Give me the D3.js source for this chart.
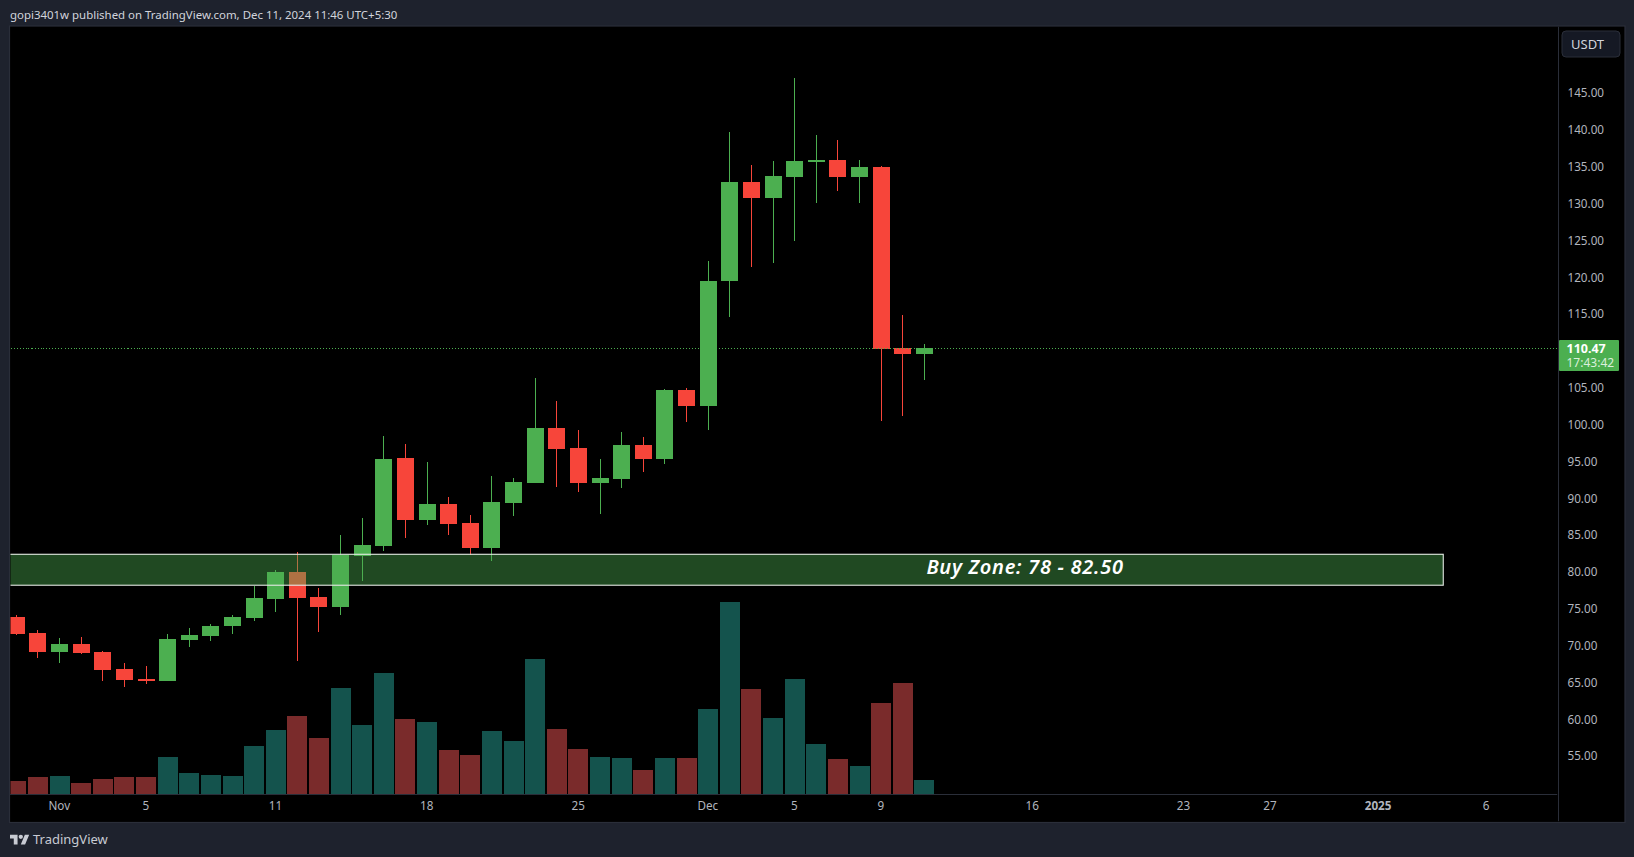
<!DOCTYPE html>
<html><head><meta charset="utf-8">
<script src="https://cdn.jsdelivr.net/npm/d3@7/dist/d3.min.js"></script>
<style>
html,body{margin:0;padding:0;background:#1E222D;overflow:hidden}
svg{display:block}
text{font-family:"Noto Sans",sans-serif}
</style></head><body>
<svg id="c" width="1634" height="857"></svg>
<script>
const dates=["2024-10-30","2024-10-31","2024-11-01","2024-11-02","2024-11-03","2024-11-04","2024-11-05","2024-11-06","2024-11-07","2024-11-08","2024-11-09","2024-11-10","2024-11-11","2024-11-12","2024-11-13","2024-11-14","2024-11-15","2024-11-16","2024-11-17","2024-11-18","2024-11-19","2024-11-20","2024-11-21","2024-11-22","2024-11-23","2024-11-24","2024-11-25","2024-11-26","2024-11-27","2024-11-28","2024-11-29","2024-11-30","2024-12-01","2024-12-02","2024-12-03","2024-12-04","2024-12-05","2024-12-06","2024-12-07","2024-12-08","2024-12-09","2024-12-10","2024-12-11"];
const open=[73.94,71.76,69.18,70.27,69.18,66.88,65.52,65.25,70.81,71.36,72.71,73.80,76.38,80.04,76.65,75.29,82.22,83.57,95.52,87.10,89.28,86.70,83.30,89.41,92.13,99.59,96.88,92.13,92.67,97.29,95.38,104.75,102.58,119.55,132.99,130.81,133.67,135.70,135.97,133.67,135.02,110.45,109.64];
const high=[74.21,72.17,71.08,71.22,69.32,67.69,67.28,71.63,72.44,72.99,74.21,78.15,80.32,82.76,77.87,85.07,87.38,98.51,97.42,94.98,90.23,87.78,93.08,92.81,106.38,103.26,99.32,95.38,99.05,98.37,104.89,105.02,122.26,139.77,135.29,135.84,147.10,139.37,138.69,135.97,135.16,114.93,111.00];
const low=[71.49,68.37,67.69,68.91,65.25,64.43,64.84,65.25,69.86,70.68,71.63,73.39,74.61,67.96,71.90,74.21,78.82,82.90,84.66,86.42,85.07,82.35,81.54,87.65,92.13,91.58,90.90,87.92,91.45,93.62,94.71,100.41,99.32,114.66,121.45,121.99,124.98,130.14,131.76,130.14,100.54,101.22,106.11];
const close=[71.63,69.18,70.27,69.05,66.74,65.38,65.25,70.95,71.49,72.71,73.94,76.52,80.04,76.52,75.29,82.35,83.71,95.38,87.10,89.28,86.56,83.30,89.55,92.26,99.59,96.74,92.13,92.81,97.29,95.38,104.75,102.58,119.55,132.99,130.81,133.80,135.84,135.97,133.67,135.02,110.32,109.64,110.47];
const volume=[13,17,18,11,15,17,17,37,21,19,18,48,64,78,56,106,69,121,75,72,44,39,63,53,135,65,45,37,36,24,36,36,85,192,105,76,115,50,35,28,91,111,14];
const priceTicks=[55,60,65,70,75,80,85,90,95,100,105,115,120,125,130,135,140,145];
const timeTickDates=["2024-11-01","2024-11-05","2024-11-11","2024-11-18","2024-11-25","2024-12-01","2024-12-05","2024-12-09","2024-12-16","2024-12-23","2024-12-27","2025-01-01","2025-01-06"];
const timeTickLabels=["Nov","5","11","18","25","Dec","5","9","16","23","27","2025","6"];
const lastPrice=110.47, countdown="17:43:42";
const zoneLow=78.25, zoneHigh=82.45, zoneEnd="2025-01-04";
const zoneLabel="Buy Zone: 78 - 82.50";
const header="gopi3401w published on TradingView.com, Dec 11, 2024 11:46 UTC+5:30";
const brand="TradingView", currency="USDT";

const GREEN="#4CAF50",RED="#F7453A",VG="#14534D",VR="#7A2B2B",BORDER="#2A2E39",AXT="#B2B5BE";
const L=10.5,R=1558,T=27,B=794,OUTR=1624,OUTB=821.5;
const svg=d3.select("#c");
const parse=s=>new Date(s+"T00:00:00Z");
const x=d3.scaleUtc().domain([parse("2024-10-30"),parse("2025-01-06")]).range([16.3,1486.5]);
const y=d3.scaleLinear().domain([145,55]).range([93.5,756.5]);
const yv=d3.scaleLinear().domain([0,192]).range([B,602]);

svg.append("rect").attr("width",1634).attr("height",857).attr("fill","#1E222D");
svg.append("rect").attr("x",L-1).attr("y",T-1).attr("width",OUTR-L+2).attr("height",OUTB-T+2).attr("fill","#000").attr("stroke",BORDER).attr("stroke-width",1.2);
const defs=svg.append("defs");
defs.append("clipPath").attr("id","plot").append("rect").attr("x",L).attr("y",T).attr("width",R-L).attr("height",B-T);

const rows=dates.map((d,i)=>({t:parse(d),o:open[i],h:high[i],l:low[i],c:close[i],v:volume[i]}));
const plot=svg.append("g").attr("clip-path","url(#plot)").attr("shape-rendering","crispEdges");

plot.selectAll(".vol").data(rows).join("rect").attr("class","vol")
 .attr("x",d=>Math.round(x(d.t)-10)).attr("width",20)
 .attr("y",d=>yv(d.v)).attr("height",d=>B-yv(d.v))
 .attr("fill",d=>d.c>=d.o?VG:VR);

const lineY=Math.ceil(y(lastPrice))+0.5;
svg.append("line").attr("x1",L).attr("x2",R).attr("y1",lineY).attr("y2",lineY)
 .attr("stroke",GREEN).attr("stroke-width",1).attr("stroke-dasharray","1 2").attr("shape-rendering","crispEdges");

const candle=plot.selectAll(".candle").data(rows).join("g").attr("class","candle");
const bx=d=>Math.round(x(d.t)-8.5);
candle.append("rect").attr("x",d=>bx(d)+8).attr("width",1)
 .attr("y",d=>Math.round(y(d.h))).attr("height",d=>Math.max(1,Math.round(y(d.l))-Math.round(y(d.h))))
 .attr("fill",d=>d.c>=d.o?GREEN:RED);
candle.append("rect").attr("x",bx).attr("width",17)
 .attr("y",d=>Math.round(y(Math.max(d.o,d.c))))
 .attr("height",d=>Math.max(2,Math.round(y(Math.min(d.o,d.c)))-Math.round(y(Math.max(d.o,d.c)))))
 .attr("fill",d=>d.c>=d.o?GREEN:RED);

const zx2=x(parse(zoneEnd));
plot.append("rect").attr("x",L-2).attr("y",y(zoneHigh)).attr("width",zx2-L+2).attr("height",y(zoneLow)-y(zoneHigh))
 .attr("fill",GREEN).attr("fill-opacity",0.42);
svg.append("rect").attr("x",L-2).attr("y",y(zoneHigh)).attr("width",zx2-L+2).attr("height",y(zoneLow)-y(zoneHigh))
 .attr("fill","none").attr("stroke","#E4EAE4").attr("stroke-width",1.1).attr("clip-path","url(#plot)");
svg.append("text").attr("x",1025).attr("y",(y(zoneHigh)+y(zoneLow))/2+4).attr("text-anchor","middle")
 .attr("fill","#fff").attr("font-size",20).attr("font-weight",600).attr("font-style","italic").attr("letter-spacing",0.7).text(zoneLabel);

// axes
const ax=svg.append("g").attr("transform",`translate(${R},-0.3)`)
 .call(d3.axisRight(y).tickValues(priceTicks).tickFormat(d3.format(".2f")).tickSize(0).tickPadding(9.5));
ax.select(".domain").attr("stroke",BORDER).attr("d",`M0.5,${T}V${OUTB}`);
ax.selectAll("text").attr("fill",AXT).attr("font-size",11.7).attr("font-family",'"Noto Sans"');

const tx=svg.append("g").attr("transform",`translate(-0.8,${B})`)
 .call(d3.axisBottom(x).tickValues(timeTickDates.map(parse)).tickFormat((d,i)=>timeTickLabels[i]).tickSize(0).tickPadding(8));
tx.select(".domain").attr("stroke",BORDER).attr("d",`M${L},0.5H${R}`);
tx.selectAll("text").attr("fill",AXT).attr("font-size",11.7).attr("font-family",'"Noto Sans"')
 .attr("font-weight",(d,i)=>timeTickLabels[i]==="2025"?700:400);

// currency button
svg.append("rect").attr("x",1562).attr("y",31).attr("width",58).attr("height",26).attr("rx",4)
 .attr("fill","#151924").attr("stroke",BORDER);
svg.append("text").attr("x",1571).attr("y",49).attr("fill","#D1D4DC").attr("font-size",13).text(currency);

// last price
svg.append("rect").attr("x",1559).attr("y",340).attr("width",60).attr("height",31).attr("rx",1).attr("fill",GREEN);
svg.append("text").attr("x",1566.5).attr("y",353).attr("fill","#fff").attr("font-size",12.5).attr("font-weight",700).text(d3.format(".2f")(lastPrice));
svg.append("text").attr("x",1566.5).attr("y",367).attr("fill","#DBEFDC").attr("font-size",12).text(countdown);

// header & brand
svg.append("text").attr("x",10).attr("y",19).attr("fill","#D1D4DC").attr("font-size",11.45).text(header);
svg.append("g").attr("transform","translate(10,832.5) scale(0.54)").attr("fill","#C8CBD3").html('<path d="M14 22H7V11H0V4h14v18zM28 22h-8l7.5-18h8L28 22z"/><circle cx="20" cy="8" r="4"/>');
svg.append("text").attr("x",33).attr("y",844).attr("fill","#C8CBD3").attr("font-size",13).text(brand);
</script>
</body></html>
